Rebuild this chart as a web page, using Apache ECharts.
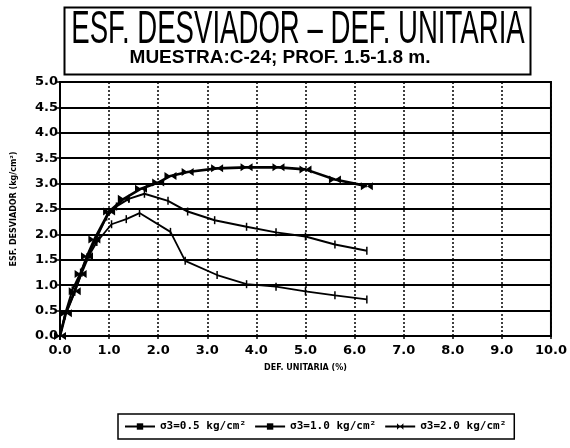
<!DOCTYPE html>
<html>
<head>
<meta charset="utf-8">
<script src="https://cdn.jsdelivr.net/npm/echarts@6/dist/echarts.min.js"></script>
<style>
  html, body { margin: 0; padding: 0; background: #fff; }
  #chart { width: 570px; height: 448px; }
</style>
</head>
<body>
<div id="chart"></div>
<script>
// Deformación unitaria (%) y esfuerzo desviador (kg/cm²) por presión de confinamiento
var def05 = [0, 0.1, 0.3, 0.45, 0.6, 0.75, 1.05, 1.35, 1.62, 2.25, 2.55, 3.2, 3.8, 4.4, 5.0, 5.6, 6.25];
var esf05 = [0, 0.4, 0.87, 1.25, 1.6, 1.85, 2.2, 2.3, 2.42, 2.05, 1.48, 1.2, 1.02, 0.97, 0.88, 0.8, 0.72];

var def10 = [0, 0.1, 0.25, 0.42, 0.55, 0.72, 0.95, 1.15, 1.4, 1.72, 2.2, 2.6, 3.15, 3.8, 4.4, 5.0, 5.6, 6.25];
var esf10 = [0, 0.42, 0.9, 1.25, 1.55, 1.88, 2.35, 2.55, 2.7, 2.8, 2.66, 2.45, 2.28, 2.15, 2.04, 1.96, 1.8, 1.68];

var def20 = [0, 0.12, 0.3, 0.42, 0.55, 0.7, 1.0, 1.3, 1.65, 2.0, 2.25, 2.6, 3.2, 3.8, 4.45, 5.0, 5.6, 6.25];
var esf20 = [0, 0.45, 0.88, 1.22, 1.57, 1.9, 2.45, 2.7, 2.9, 3.02, 3.15, 3.23, 3.3, 3.32, 3.32, 3.28, 3.08, 2.95];

var seriesNames = ['\u03c33=0.5 kg/cm\u00b2', '\u03c33=1.0 kg/cm\u00b2', '\u03c33=2.0 kg/cm\u00b2'];
var titleText = 'ESF. DESVIADOR \u2013 DEF. UNITARIA';
var subtitleText = 'MUESTRA:C-24; PROF. 1.5-1.8 m.';
var xTitle = 'DEF. UNITARIA (%)';
var yTitle = 'ESF. DESVIADOR (kg/cm\u00b2)';

function pairs(xs, ys) {
  return xs.map(function (x, i) { return [x, ys[i]]; });
}

// horizontal bowtie marker for the 2.0 kg/cm² curve
var bowtie = 'path://M0,0 L10,5 L0,10 Z M20,0 L10,5 L20,10 Z';

var chart = echarts.init(document.getElementById('chart'), null, { renderer: 'canvas' });

chart.setOption({
  backgroundColor: '#ffffff',
  animation: false,
  grid: {
    left: 60, right: 17, top: 82, bottom: 112,
    show: true, borderColor: '#000', borderWidth: 2
  },
  xAxis: {
    type: 'value', min: 0, max: 10, interval: 1,
    name: xTitle, nameLocation: 'middle', nameGap: 28,
    nameTextStyle: { color: '#000', fontFamily: 'DejaVu Sans', fontWeight: 'bold', fontSize: 8 },
    axisLine: { lineStyle: { color: '#000', width: 2 } },
    axisTick: { show: true, length: 3, lineStyle: { color: '#000', width: 1.5 } },
    axisLabel: {
      color: '#000', fontFamily: 'DejaVu Sans', fontWeight: 'bold', fontSize: 13, margin: 8,
      formatter: function (v) { return v.toFixed(1); }
    },
    splitLine: { show: true, lineStyle: { color: '#000', width: 1.5, type: [2, 2] } }
  },
  yAxis: {
    type: 'value', min: 0, max: 5, interval: 0.5,
    name: yTitle, nameLocation: 'middle', nameGap: 42, nameRotate: 90,
    nameTextStyle: { color: '#000', fontFamily: 'DejaVu Sans', fontWeight: 'bold', fontSize: 8 },
    axisLine: { show: true, lineStyle: { color: '#000', width: 2 } },
    axisTick: { show: true, length: 3, lineStyle: { color: '#000', width: 1.5 } },
    axisLabel: {
      color: '#000', fontFamily: 'DejaVu Sans', fontWeight: 'bold', fontSize: 13, margin: 2,
      formatter: function (v) { return v.toFixed(1); }
    },
    splitLine: { show: true, lineStyle: { color: '#000', width: 2 } }
  },
  legend: {
    left: 118, top: 414,
    data: seriesNames,
    itemWidth: 30, itemHeight: 8, itemGap: 8,
    padding: [7, 8, 7, 6],
    borderColor: '#000', borderWidth: 1.5,
    textStyle: { color: '#000', fontFamily: 'DejaVu Sans Mono', fontWeight: 'bold', fontSize: 11 }
  },
  graphic: [
    {
      type: 'rect', left: 62, top: 5,
      shape: { width: 466, height: 67 },
      style: { fill: 'none', stroke: '#000', lineWidth: 2 }
    },
    {
      type: 'text', x: 298, y: 30, scaleX: 0.6, originX: 0, originY: 0,
      style: {
        text: titleText, fill: '#000',
        font: 'normal 46px "Liberation Sans"',
        textAlign: 'center', textVerticalAlign: 'middle'
      }
    },
    {
      type: 'text', x: 280, y: 58,
      style: {
        text: subtitleText, fill: '#000',
        font: 'bold 19px "Liberation Sans"',
        textAlign: 'center', textVerticalAlign: 'middle'
      }
    }
  ],
  series: [
    {
      name: seriesNames[0], type: 'line', data: pairs(def05, esf05),
      symbol: 'rect', symbolSize: [1.5, 8], showSymbol: true,
      lineStyle: { color: '#000', width: 1.8 },
      itemStyle: { color: '#000' }
    },
    {
      name: seriesNames[1], type: 'line', data: pairs(def10, esf10),
      symbol: 'rect', symbolSize: [1.5, 8], showSymbol: true,
      lineStyle: { color: '#000', width: 2 },
      itemStyle: { color: '#000' }
    },
    {
      name: seriesNames[2], type: 'line', data: pairs(def20, esf20),
      symbol: bowtie, symbolSize: [12, 8], showSymbol: true,
      lineStyle: { color: '#000', width: 2.6 },
      itemStyle: { color: '#000' }
    }
  ]
});
</script>
</body>
</html>
